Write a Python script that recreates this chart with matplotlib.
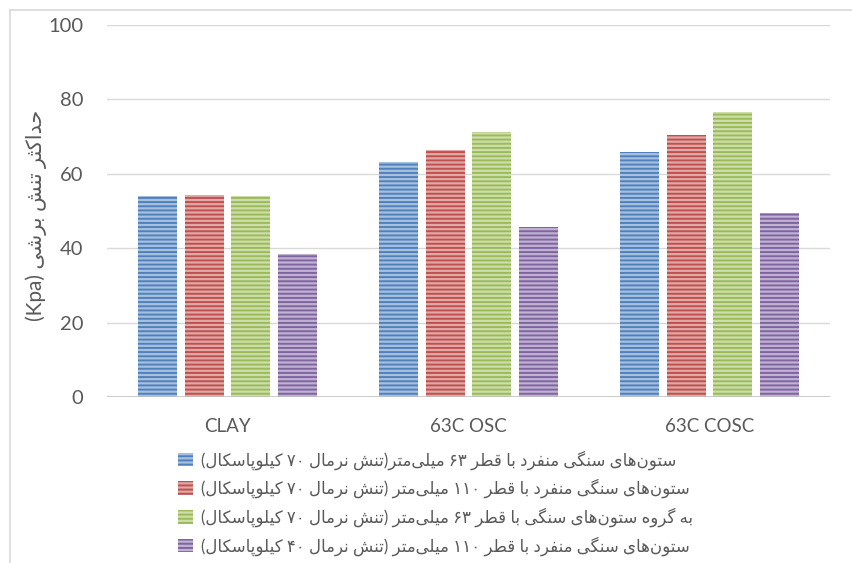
import matplotlib
matplotlib.use("Agg")
import matplotlib.pyplot as plt
from matplotlib.lines import Line2D
import numpy as np

# ---------------- data ----------------
categories = ["CLAY", "63C OSC", "63C COSC"]
s1 = [54.0, 63.3, 65.8]
s2 = [54.2, 66.3, 70.3]
s3 = [54.0, 71.3, 76.6]
s4 = [38.4, 45.8, 49.5]
series_values = [s1, s2, s3, s4]
series_labels = [
    "ستون‌های سنگی منفرد با قطر ۶۳ میلی‌متر(تنش نرمال ۷۰ کیلوپاسکال)",
    "ستون‌های سنگی منفرد با قطر ۱۱۰ میلی‌متر (تنش نرمال ۷۰ کیلوپاسکال)",
    "به گروه ستون‌های سنگی با قطر ۶۳ میلی‌متر (تنش نرمال ۷۰ کیلوپاسکال)",
    "ستون‌های سنگی منفرد با قطر ۱۱۰ میلی‌متر (تنش نرمال ۴۰ کیلوپاسکال)",
]
y_label = "حداکثر تنش برشی (Kpa)"
y_ticks = [0, 20, 40, 60, 80, 100]

# ---------------- simple Persian shaping + bidi ----------------
FORMS = {  # isolated, final, initial, medial
    'ا': ('\uFE8D', '\uFE8E', None, None),
    'ب': ('\uFE8F', '\uFE90', '\uFE91', '\uFE92'),
    'پ': ('\uFB56', '\uFB57', '\uFB58', '\uFB59'),
    'ت': ('\uFE95', '\uFE96', '\uFE97', '\uFE98'),
    'ث': ('\uFE99', '\uFE9A', '\uFE9B', '\uFE9C'),
    'ح': ('\uFEA1', '\uFEA2', '\uFEA3', '\uFEA4'),
    'د': ('\uFEA9', '\uFEAA', None, None),
    'ر': ('\uFEAD', '\uFEAE', None, None),
    'س': ('\uFEB1', '\uFEB2', '\uFEB3', '\uFEB4'),
    'ش': ('\uFEB5', '\uFEB6', '\uFEB7', '\uFEB8'),
    'ط': ('\uFEC1', '\uFEC2', '\uFEC3', '\uFEC4'),
    'ف': ('\uFED1', '\uFED2', '\uFED3', '\uFED4'),
    'ق': ('\uFED5', '\uFED6', '\uFED7', '\uFED8'),
    'ل': ('\uFEDD', '\uFEDE', '\uFEDF', '\uFEE0'),
    'م': ('\uFEE1', '\uFEE2', '\uFEE3', '\uFEE4'),
    'ن': ('\uFEE5', '\uFEE6', '\uFEE7', '\uFEE8'),
    'ه': ('\uFEE9', '\uFEEA', '\uFEEB', '\uFEEC'),
    'و': ('\uFEED', '\uFEEE', None, None),
    'ی': ('\uFBFC', '\uFBFD', '\uFBFE', '\uFBFF'),
    'ک': ('\uFB8E', '\uFB8F', '\uFB90', '\uFB91'),
    'گ': ('\uFB92', '\uFB93', '\uFB94', '\uFB95'),
}


def _dual(c):
    return c in FORMS and FORMS[c][2] is not None


def shape(text):
    out = []
    n = len(text)
    for i, c in enumerate(text):
        if c not in FORMS:
            if c != '\u200c':
                out.append(c)
            continue
        prev_c = text[i - 1] if i > 0 else ''
        next_c = text[i + 1] if i < n - 1 else ''
        jp = _dual(prev_c)
        jn = _dual(c) and next_c in FORMS
        iso, fin, ini, med = FORMS[c]
        if jp and jn:
            out.append(med)
        elif jp:
            out.append(fin)
        elif jn:
            out.append(ini)
        else:
            out.append(iso)
    return ''.join(out)


def _is_ltr(c):
    return (c.isascii() and c.isalnum()) or ('\u06F0' <= c <= '\u06F9')


MIRROR = {'(': ')', ')': '('}


def rtl(text):
    s = shape(text)
    runs = []
    for c in s:
        t = _is_ltr(c)
        if runs and runs[-1][0] == t:
            runs[-1][1].append(c)
        else:
            runs.append([t, [c]])
    vis = []
    for t, chars in reversed(runs):
        if t:
            vis.append(''.join(chars))
        else:
            vis.append(''.join(MIRROR.get(ch, ch) for ch in reversed(chars)))
    return ''.join(vis)


# ---------------- style ----------------
FONT = ['Lato', 'DejaVu Sans']
plt.rcParams['font.family'] = FONT
plt.rcParams['hatch.linewidth'] = 1.4
TXT = '#595959'

base_colors = ['#4F81BD', '#C0504D', '#9BBB59', '#8064A2']


def lighten(hexc, f):
    r, g, b = matplotlib.colors.to_rgb(hexc)
    return (r + (1 - r) * f, g + (1 - g) * f, b + (1 - b) * f)


fig = plt.figure(figsize=(8.52, 5.63), dpi=100)
ax = fig.add_axes([107 / 852, 1 - 397 / 563, (830 - 107) / 852, (397 - 25) / 563])

x = np.arange(len(categories))
width = 0.163
step = 0.193
handles = []
for k, (vals, col) in enumerate(zip(series_values, base_colors)):
    offs = (k - 1.5) * step
    bars = ax.bar(x + offs, vals, width, facecolor=lighten(col, 0.5),
                  edgecolor=col, hatch='----', linewidth=0, zorder=3,
                  label=rtl(series_labels[k]))
    handles.append(bars)

ax.set_xlim(-0.5, len(categories) - 0.5)
ax.set_ylim(0, 100)
ax.set_yticks(y_ticks)
ax.set_yticklabels([str(v) for v in y_ticks], fontsize=14.5, color=TXT)
ax.set_xticks(x)
ax.set_xticklabels(categories, fontsize=13.5, color=TXT)
ax.tick_params(axis='y', length=0, pad=17)
ax.tick_params(axis='x', length=0, pad=15)
for sp in ax.spines.values():
    sp.set_visible(False)
ax.grid(axis='y', color='#D9D9D9', linewidth=1.0, zorder=0)
ax.set_axisbelow(True)
ax.axhline(0, color='#BFBFBF', linewidth=1.8, zorder=4)

fig.text(36 / 852, 1 - 215 / 563, rtl(y_label), rotation=90, fontsize=15,
         color=TXT, ha='center', va='center', family=FONT)

leg = fig.legend(handles=handles, loc='upper left',
                 bbox_to_anchor=(178 / 852, 1 - 450 / 563),
                 frameon=False, fontsize=12, handlelength=0.9,
                 handleheight=0.9, handletextpad=0.5, labelspacing=0.55,
                 borderaxespad=0, borderpad=0)
for t in leg.get_texts():
    t.set_color(TXT)

# figure border (top & left visible)
fig.add_artist(Line2D([10 / 852, 10 / 852], [0, 1 - 10 / 563],
                      transform=fig.transFigure, color='#D9D9D9', linewidth=1.2))
fig.add_artist(Line2D([10 / 852, 1], [1 - 10 / 563, 1 - 10 / 563],
                      transform=fig.transFigure, color='#D9D9D9', linewidth=1.2))

fig.savefig('out.png', dpi=100)
